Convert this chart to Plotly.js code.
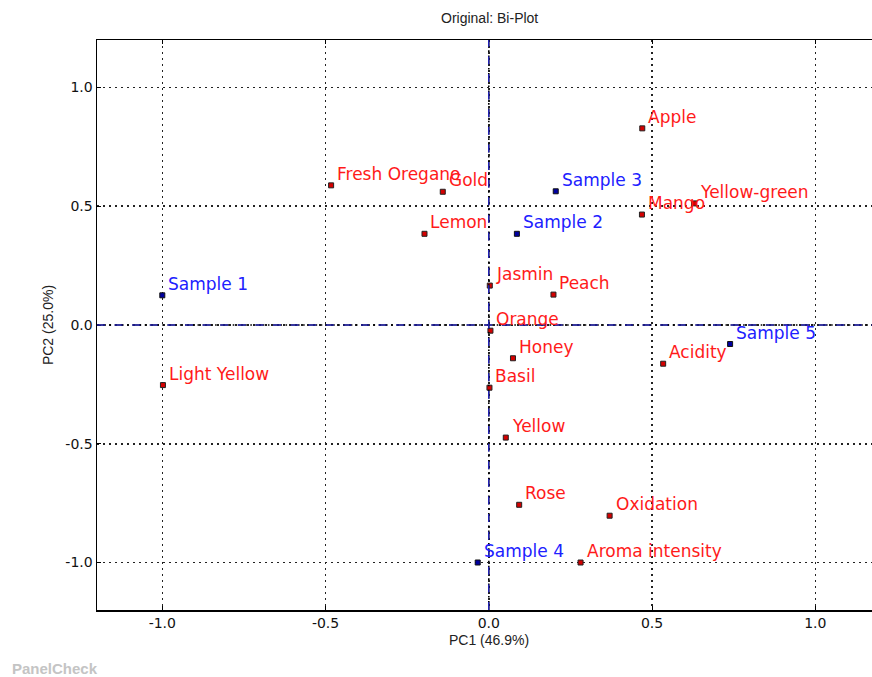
<!DOCTYPE html>
<html>
<head>
<meta charset="utf-8">
<script src="https://cdn.plot.ly/plotly-3.0.1.min.js"></script>
<style>html,body{margin:0;padding:0;background:#fff;}#chart{width:872px;height:677px;}</style>
</head>
<body>
<div id="chart"></div>
<script>
// Samples (blue)
const sampleNames = ["Sample 1", "Sample 2", "Sample 3", "Sample 4", "Sample 5"];
const sampleX = [-1.0, 0.086, 0.205, -0.034, 0.739];
const sampleY = [0.125, 0.384, 0.563, -1.0, -0.080];

// Attributes (red)
const attrNames = ["Apple", "Mango", "Yellow-green", "Fresh Oregano", "Gold", "Lemon", "Jasmin", "Peach",
  "Orange", "Honey", "Basil", "Yellow", "Acidity", "Light Yellow", "Rose", "Oxidation", "Aroma intensity"];
const attrX = [0.470, 0.469, 0.629, -0.483, -0.141, -0.197, 0.003, 0.198,
  0.005, 0.074, 0.002, 0.052, 0.534, -0.998, 0.093, 0.370, 0.281];
const attrY = [0.828, 0.465, 0.512, 0.588, 0.561, 0.384, 0.166, 0.128,
  -0.024, -0.140, -0.264, -0.474, -0.163, -0.253, -0.757, -0.803, -1.0];

const xTicks = [-1.0, -0.5, 0.0, 0.5, 1.0];
const yTicks = [-1.0, -0.5, 0.0, 0.5, 1.0];
const tickText = ["-1.0", "-0.5", "0.0", "0.5", "1.0"];

const traces = [
  {x: attrX, y: attrY, mode: "markers", type: "scatter", hoverinfo: "text", text: attrNames,
   marker: {symbol: "square", size: 5, color: "#d40000", line: {color: "#222", width: 1}}},
  {x: sampleX, y: sampleY, mode: "markers", type: "scatter", hoverinfo: "text", text: sampleNames,
   marker: {symbol: "square", size: 5, color: "#0000a0", line: {color: "#111", width: 1}}}
];

const narrow = "Liberation Sans Narrow, Arial Narrow, Liberation Sans, sans-serif";
const labelFont = {family: "DejaVu Sans", size: 17};
const annotations = [];
attrNames.forEach((n, i) => annotations.push({x: attrX[i], y: attrY[i], text: n, showarrow: false,
  xanchor: "left", yanchor: "bottom", xshift: 4, yshift: -0.5, font: Object.assign({color: "#ff1a1a"}, labelFont)}));
sampleNames.forEach((n, i) => annotations.push({x: sampleX[i], y: sampleY[i], text: n, showarrow: false,
  xanchor: "left", yanchor: "bottom", xshift: 4, yshift: -0.5, font: Object.assign({color: "#2020ff"}, labelFont)}));
annotations.push({xref: "paper", yref: "paper", x: -0.1123, y: -0.1018, xanchor: "left", yanchor: "middle",
  text: "<b>PanelCheck</b>", showarrow: false, font: {family: "Liberation Sans", size: 15, color: "#c4c4c4"}});
annotations.push({xref: "x", yref: "paper", x: 0.0015, y: 0, yshift: -30, xanchor: "center", yanchor: "middle",
  text: "PC1 (46.9%)", showarrow: false, font: {family: narrow, size: 14, color: "#222"}});
annotations.push({xref: "x", yref: "paper", x: 0.0015, y: 1, yshift: 22, xanchor: "center", yanchor: "middle",
  text: "Original: Bi-Plot", showarrow: false, font: {family: narrow, size: 14, color: "#222"}});

const gridDash = "2px,4px";

const layout = {
  width: 872, height: 677,
  margin: {l: 97, r: 0, t: 40, b: 67},
  paper_bgcolor: "#fff", plot_bgcolor: "#fff",
  showlegend: false,
  xaxis: {range: [-1.2, 1.1736], tickvals: xTicks, ticktext: tickText,
    showgrid: true, gridcolor: "#222", griddash: gridDash, gridwidth: 1.6, zeroline: false,
    showline: true, linecolor: "#000", linewidth: 1.5, mirror: "ticks",
    ticks: "inside", ticklen: 4, tickcolor: "#000",
    tickfont: {family: "DejaVu Sans", size: 14, color: "#111"}},
  yaxis: {range: [-1.2, 1.2], tickvals: yTicks, ticktext: tickText,
    showgrid: true, gridcolor: "#222", griddash: gridDash, gridwidth: 1.6, zeroline: false,
    showline: true, linecolor: "#000", linewidth: 1.5,
    ticks: "inside", ticklen: 4, tickcolor: "#000",
    tickfont: {family: "DejaVu Sans", size: 14, color: "#111"},
    title: {text: "PC2 (25.0%)", standoff: 8, font: {family: narrow, size: 14, color: "#222"}}},
  shapes: [
    {type: "line", xref: "paper", yref: "y", x0: 0, x1: 1, y0: 0, y1: 0, line: {color: "#000", width: 1.6, dash: "9px,3.5px,1.6px,3.5px"}},
    {type: "line", xref: "paper", yref: "y", x0: 0, x1: 1, y0: 0, y1: 0, line: {color: "#3030ff", width: 1, dash: "8px,9.6px"}},
    {type: "line", xref: "x", yref: "paper", x0: 0, x1: 0, y0: 0, y1: 1, line: {color: "#000", width: 1.6, dash: "9px,3.5px,1.6px,3.5px"}},
    {type: "line", xref: "x", yref: "paper", x0: 0, x1: 0, y0: 0, y1: 1, line: {color: "#3030ff", width: 1, dash: "8px,9.6px"}}
  ],
  annotations: annotations
};

Plotly.newPlot("chart", traces, layout, {displayModeBar: false, staticPlot: true});
</script>
</body>
</html>
